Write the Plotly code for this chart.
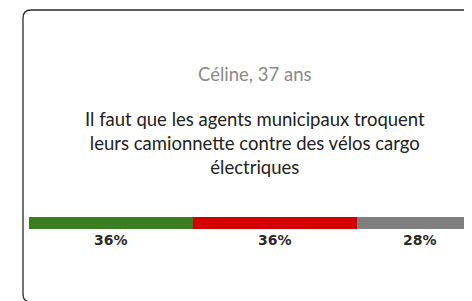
import plotly.graph_objects as go

# Data
categories = ["Pour", "Contre", "Sans avis"]
values = [36, 36, 28]
colors = ["#3a7d22", "#d40000", "#7f7f7f"]
labels = ["36%", "36%", "28%"]
subtitle = "Céline, 37 ans"
question = "Il faut que les agents municipaux troquent<br>leurs camionnette contre des vélos cargo<br>électriques"

OFF = 8  # page body margin
W, H = 472 - OFF, 301 - OFF
bar_left = 29 - OFF
bar_full = 455  # pixel width for 100%
x_visible = (W - bar_left) / bar_full * 100

fig = go.Figure()
for c, v, col in zip(categories, values, colors):
    fig.add_trace(go.Bar(
        y=["q"], x=[v], orientation="h", name=c,
        marker=dict(color=col, line=dict(width=0)),
        width=1, hoverinfo="skip",
    ))

def py(p):
    return 1 - (p - OFF) / H

def px(p):
    return (p - OFF) / W

# percent labels under each segment
cum = 0
annotations = []
for v, lab in zip(values, labels):
    annotations.append(dict(
        x=cum + v / 2, y=py(239.5), xref="x", yref="paper",
        text=f"<b>{lab}</b>", showarrow=False,
        font=dict(family="DejaVu Sans, sans-serif", size=14, color="#2a2a2a"),
        xanchor="center", yanchor="middle",
    ))
    cum += v

annotations.append(dict(
    x=px(255), y=py(74), xref="paper", yref="paper", text=subtitle,
    showarrow=False, font=dict(family="Lato, Roboto, sans-serif", size=18.5, color="#8a8a8a"),
    xanchor="center", yanchor="middle",
))
annotations.append(dict(
    x=px(255), y=py(143), xref="paper", yref="paper", text=question,
    showarrow=False, font=dict(family="Lato, Roboto, sans-serif", size=18.5, color="#222222"),
    xanchor="center", yanchor="middle", align="center",
))

# card outline (rounded)
L, T, B, R = 23, 10, 302, 520
r = 8
path = (
    f"M {px(R)},{py(T)} L {px(L + r)},{py(T)} "
    f"Q {px(L)},{py(T)} {px(L)},{py(T + r)} "
    f"L {px(L)},{py(B - r)} Q {px(L)},{py(B)} {px(L + r)},{py(B)} "
    f"L {px(R)},{py(B)}"
)
shapes = [dict(type="path", path=path, xref="paper", yref="paper",
               line=dict(color="#2a2a2a", width=1.3))]

fig.update_layout(
    width=W, height=H, barmode="stack",
    margin=dict(l=0, r=0, t=0, b=0),
    paper_bgcolor="white", plot_bgcolor="white",
    showlegend=False, bargap=0,
    xaxis=dict(domain=[bar_left / W, 1], range=[0, x_visible], visible=False, fixedrange=True),
    yaxis=dict(domain=[py(229), py(217)], visible=False, fixedrange=True),
    annotations=annotations, shapes=shapes,
)

fig.write_html("out.html", config={"displayModeBar": False})
